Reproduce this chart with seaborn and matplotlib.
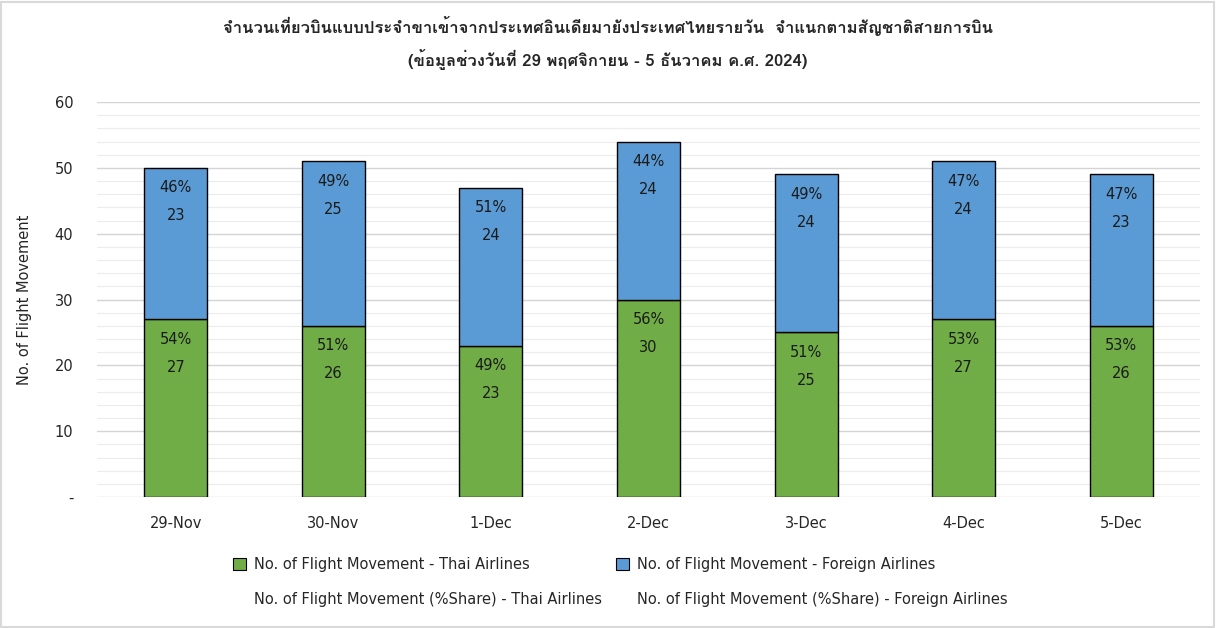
import matplotlib
matplotlib.use('Agg')
from matplotlib import pyplot as plt
from matplotlib import font_manager
from matplotlib.ft2font import FT2Font
from matplotlib.patches import Rectangle, Patch
from matplotlib.lines import Line2D
import seaborn as sns
import pandas as pd

dates = ['29-Nov', '30-Nov', '1-Dec', '2-Dec', '3-Dec', '4-Dec', '5-Dec']
thai = [27, 26, 23, 30, 25, 27, 26]
foreign = [23, 25, 24, 24, 24, 24, 23]
thai_pct = [54, 51, 49, 56, 51, 53, 53]
foreign_pct = [46, 49, 51, 44, 49, 47, 47]

title = ('จำนวนเที่ยวบินแบบประจำขาเข้าจากประเทศอินเดียมายังประเทศไทยรายวัน  จำแนกตามสัญชาติสายการบิน\n'
         '(ข้อมูลช่วงวันที่ 29 พฤศจิกายน - 5 ธันวาคม ค.ศ. 2024)')

# find an installed family that has Thai glyphs
thai_family = None
for f in font_manager.fontManager.ttflist:
    try:
        if 0x0E08 in FT2Font(f.fname).get_charmap():
            thai_family = f.name
            break
    except Exception:
        pass

sns.set_style('white')
plt.rcParams['font.family'] = ['DejaVu Sans']
fams = [thai_family, 'DejaVu Sans'] if thai_family else ['DejaVu Sans']

df = pd.DataFrame({'date': dates, 'thai': thai, 'foreign': foreign})
green = '#70AD47'
blue = '#5B9BD5'

fig = plt.figure(figsize=(12.16, 6.28), dpi=100)
ax = fig.add_axes([97 / 1216, 1 - 497 / 628, 1103 / 1216, 395 / 628])

sns.barplot(data=df, x='date', y='thai', color=green, width=0.4,
            edgecolor='black', linewidth=1, saturation=1, ax=ax, zorder=3)
sns.barplot(data=df, x='date', y='foreign', bottom=df['thai'], color=blue, width=0.4,
            edgecolor='black', linewidth=1, saturation=1, ax=ax, zorder=3)

for i in range(len(dates)):
    ax.text(i, thai[i] - 3.0, f'{thai_pct[i]}%', ha='center', va='center', fontsize=10.5, color='#1a1a1a', zorder=4)
    ax.text(i, thai[i] - 7.3, f'{thai[i]}', ha='center', va='center', fontsize=10.5, color='#1a1a1a', zorder=4)
    top = thai[i] + foreign[i]
    ax.text(i, top - 3.0, f'{foreign_pct[i]}%', ha='center', va='center', fontsize=10.5, color='#1a1a1a', zorder=4)
    ax.text(i, top - 7.3, f'{foreign[i]}', ha='center', va='center', fontsize=10.5, color='#1a1a1a', zorder=4)

ax.set_ylim(0, 60)
ax.set_xlim(-0.5, 6.5)
ax.set_yticks(range(0, 61, 10))
ax.set_yticklabels(['-'] + [str(v) for v in range(10, 61, 10)])
ax.set_yticks(range(0, 61, 2), minor=True)
ax.grid(axis='y', which='minor', color='#ececec', linewidth=0.8, zorder=0)
ax.grid(axis='y', which='major', color='#d4d4d4', linewidth=1.0, zorder=0)
for s in ax.spines.values():
    s.set_visible(False)
ax.tick_params(axis='y', which='both', length=0, pad=17, labelsize=10.5)
ax.tick_params(axis='x', length=0, pad=14, labelsize=10.5)
ax.set_xlabel('')
ax.set_ylabel('No. of Flight Movement', fontsize=10.5)
ax.yaxis.set_label_coords(-65 / 1103, 0.5)

fig.text(0.5, 1 - 43 / 628, title, ha='center', va='center', fontsize=12,
         fontweight='bold', family=fams, linespacing=1.75)

handles = [Patch(facecolor=green, edgecolor='black', linewidth=0.8),
           Line2D([], [], linestyle='none'),
           Patch(facecolor=blue, edgecolor='black', linewidth=0.8),
           Line2D([], [], linestyle='none')]
labels = ['No. of Flight Movement - Thai Airlines',
          'No. of Flight Movement (%Share) - Thai Airlines',
          'No. of Flight Movement - Foreign Airlines',
          'No. of Flight Movement (%Share) - Foreign Airlines']
fig.legend(handles, labels, ncol=2, loc='center', bbox_to_anchor=(0.51, 1 - 582 / 628),
           frameon=False, fontsize=10.5, handlelength=0.9, handleheight=0.9,
           handletextpad=0.5, columnspacing=1.0, labelspacing=1.35)

fig.add_artist(Rectangle((0.001, 0.002), 0.997, 0.995, transform=fig.transFigure,
                         fill=False, edgecolor='#d9d9d9', linewidth=1.5))

fig.savefig('out.png', dpi=100)
